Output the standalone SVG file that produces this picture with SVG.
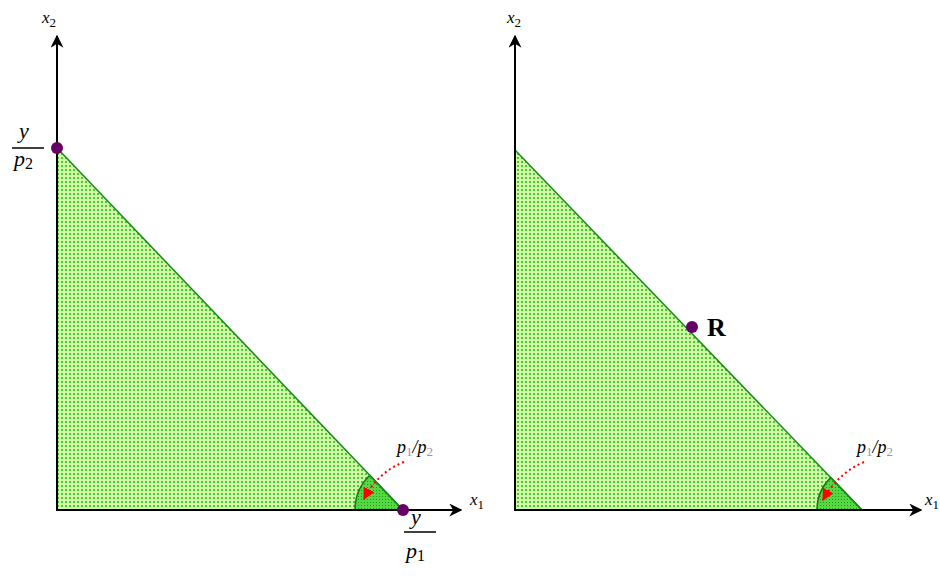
<svg xmlns="http://www.w3.org/2000/svg" width="940" height="579" viewBox="0 0 940 579">
<style>
.ax{stroke:#000;stroke-width:2;fill:none}
.hyp{stroke:#1a8a1a;stroke-width:1.5}
.lbl{font-family:"Liberation Serif",serif;font-style:italic;font-size:17px;fill:#000}
.frac{font-family:"Liberation Serif",serif;font-style:italic;font-size:22px;fill:#000}
.sub{font-family:"Liberation Serif",serif;font-style:normal;font-size:13px;fill:#000}
.fsub{font-family:"Liberation Serif",serif;font-style:normal;font-size:16px;fill:#000}
.ang{font-family:"Liberation Serif",serif;font-style:italic;font-size:18px;fill:#000}
.angs{font-family:"Liberation Serif",serif;font-style:normal;font-size:13px;fill:#999}
.red{stroke:#ff0000;stroke-width:2;stroke-dasharray:2 3;fill:none}
.dot{fill:#660066}
</style>
<defs>
<pattern id="dots" width="4" height="4" patternUnits="userSpaceOnUse">
<rect width="4" height="4" fill="#d4f8a8"/>
<rect x="1" y="1" width="2" height="2" fill="#44cc33"/>
</pattern>
<pattern id="dots2" width="3" height="3" patternUnits="userSpaceOnUse">
<rect width="3" height="3" fill="#55d844"/>
<rect x="1" y="1" width="1" height="1" fill="#229922"/>
</pattern>
<marker id="ah" viewBox="0 0 10 10" refX="9" refY="5" markerWidth="13" markerHeight="13" markerUnits="userSpaceOnUse" orient="auto">
<path d="M0,0 L10,5 L0,10 L3,5 Z" fill="#000"/>
</marker>
<marker id="rh" viewBox="0 0 10 10" refX="9" refY="5" markerWidth="12" markerHeight="12" markerUnits="userSpaceOnUse" orient="auto">
<path d="M0,0 L10,5 L0,10 Z" fill="#ff0000"/>
</marker>
</defs>
<g id="left-region">
<polygon points="57,148 57,510 403,510" fill="url(#dots)"/>
<path d="M403,510 L355,510 A48,48 0 0 1 369.8,475.3 Z" fill="url(#dots2)" stroke="#117711" stroke-width="1.5"/>
<line class="hyp" x1="57" y1="148" x2="403" y2="510"/>
</g>
<g id="right-region">
<polygon points="515,150 515,510 862,510" fill="url(#dots)"/>
<path d="M862,510 L817,510 A45,45 0 0 1 830.8,477.6 Z" fill="url(#dots2)" stroke="#117711" stroke-width="1.5"/>
<line class="hyp" x1="515" y1="150" x2="862" y2="510"/>
</g>
<g id="connectors">
<line class="ax" x1="57" y1="511" x2="57" y2="36" marker-end="url(#ah)"/>
<line class="ax" x1="56" y1="510" x2="461" y2="510" marker-end="url(#ah)"/>
<line class="ax" x1="515" y1="511" x2="515" y2="36" marker-end="url(#ah)"/>
<line class="ax" x1="514" y1="510" x2="921" y2="510" marker-end="url(#ah)"/>
<path class="red" d="M404,462 Q378,472 364,499" marker-end="url(#rh)"/>
<path class="red" d="M864,462 Q838,473 823,500" marker-end="url(#rh)"/>
</g>
<g id="left-labels">
<text class="lbl" x="42" y="23">x<tspan class="sub" dy="4">2</tspan></text>
<text class="frac" x="19" y="138">y</text>
<line x1="12" y1="148" x2="44" y2="148" stroke="#000" stroke-width="1.5"/>
<text class="frac" x="14" y="166">p<tspan class="fsub" dy="3">2</tspan></text>
<text class="lbl" x="470" y="505">x<tspan class="sub" dy="4">1</tspan></text>
<text class="frac" x="411" y="524">y</text>
<line x1="404" y1="532" x2="436" y2="532" stroke="#000" stroke-width="1.5"/>
<text class="frac" x="406" y="558">p<tspan class="fsub" dy="3">1</tspan></text>
<text class="ang" x="397" y="453">p<tspan class="angs" dy="3">1</tspan><tspan dy="-3">/p</tspan><tspan class="angs" dy="3">2</tspan></text>
</g>
<g id="left-points">
<circle class="dot" cx="57" cy="148" r="6"/>
<circle class="dot" cx="403" cy="510" r="6"/>
</g>
<g id="right-labels">
<text class="lbl" x="507" y="23">x<tspan class="sub" dy="4">2</tspan></text>
<text class="lbl" x="925" y="505">x<tspan class="sub" dy="4">1</tspan></text>
<text class="ang" x="857" y="453">p<tspan class="angs" dy="3">1</tspan><tspan dy="-3">/p</tspan><tspan class="angs" dy="3">2</tspan></text>
</g>
<g id="point-R">
<circle class="dot" cx="692" cy="327" r="6"/>
<text x="707" y="336" font-family="Liberation Serif,serif" font-weight="bold" font-size="26" fill="#000">R</text>
</g>
</svg>
